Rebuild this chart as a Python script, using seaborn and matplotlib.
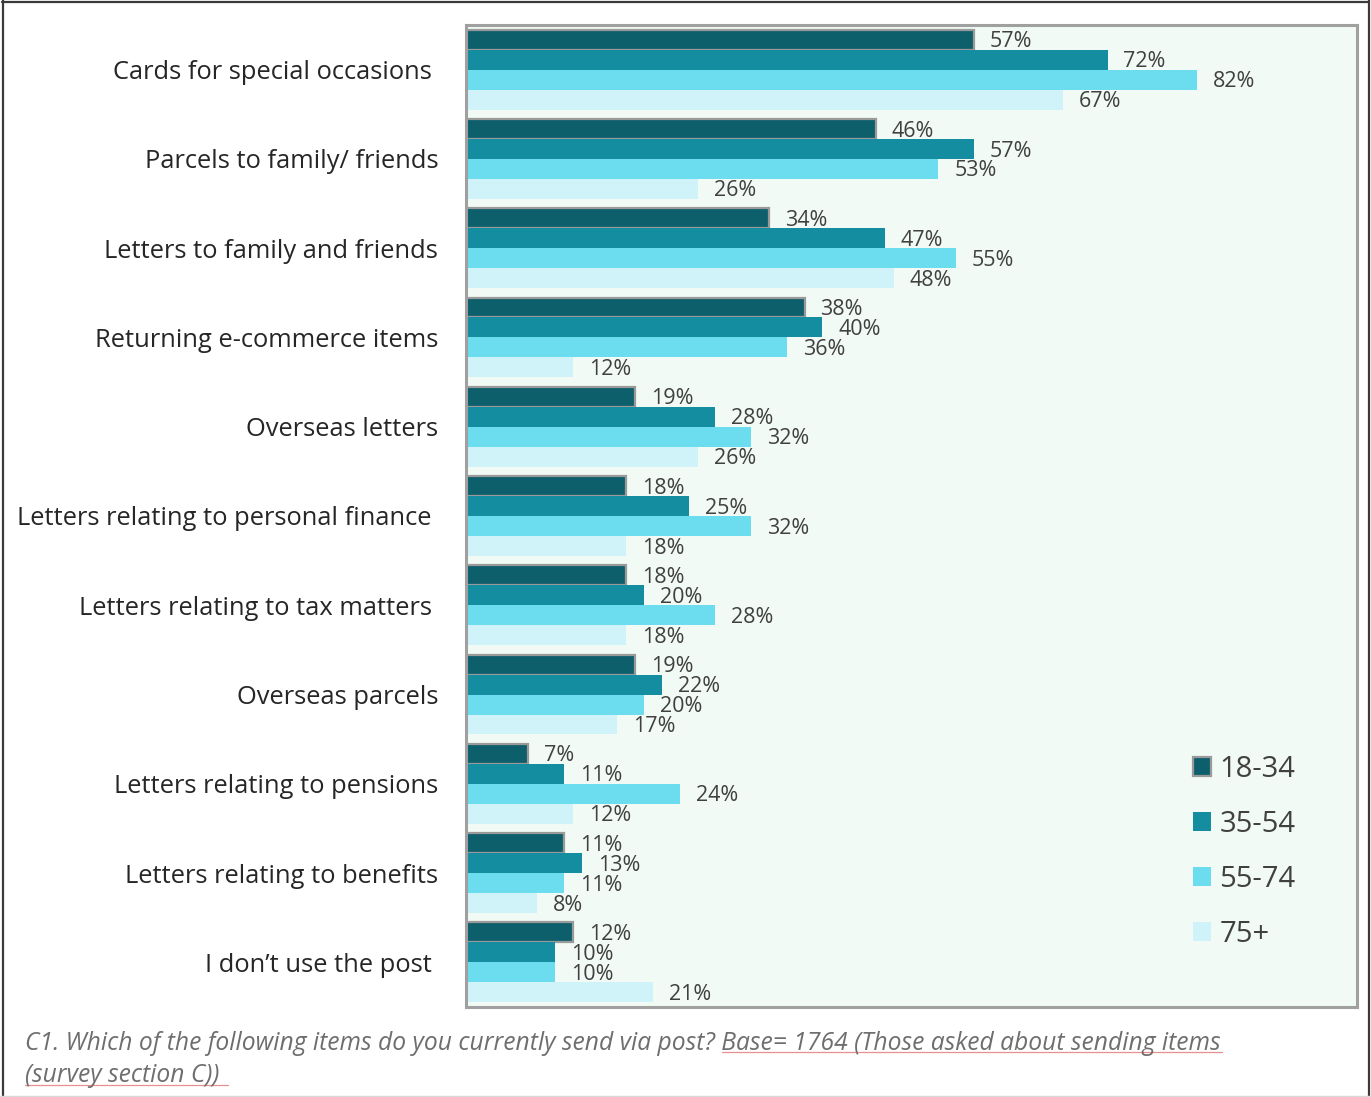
import matplotlib
matplotlib.use("Agg")
import matplotlib.pyplot as plt
from matplotlib.lines import Line2D
import seaborn as sns
import pandas as pd
import numpy as np

categories = [
    "Cards for special occasions ",
    "Parcels to family/ friends",
    "Letters to family and friends",
    "Returning e-commerce items",
    "Overseas letters",
    "Letters relating to personal finance ",
    "Letters relating to tax matters ",
    "Overseas parcels",
    "Letters relating to pensions",
    "Letters relating to benefits",
    "I don\u2019t use the post ",
]
age_groups = ["18-34", "35-54", "55-74", "75+"]
age_18_34 = [57, 46, 34, 38, 19, 18, 18, 19, 7, 11, 12]
age_35_54 = [72, 57, 47, 40, 28, 25, 20, 22, 11, 13, 10]
age_55_74 = [82, 53, 55, 36, 32, 32, 28, 20, 24, 11, 10]
age_75_plus = [67, 26, 48, 12, 26, 18, 18, 17, 12, 8, 21]

caption_line1 = ("C1. Which of the following items do you currently send via post? "
                 "Base= 1764 (Those asked about sending items")
caption_line2 = "(survey section C))"

palette = ["#0e5f6c", "#148da1", "#6cdcef", "#cff3f9"]

rows = []
for series, name in zip([age_18_34, age_35_54, age_55_74, age_75_plus], age_groups):
    for cat, v in zip(categories, series):
        rows.append({"item": cat, "age": name, "pct": v})
df = pd.DataFrame(rows)

sns.set_theme(style="white")
plt.rcParams["font.family"] = ["Open Sans", "DejaVu Sans"]

W, H = 1371, 1097
fig = plt.figure(figsize=(W / 100, H / 100), dpi=100)
ax = fig.add_axes([466 / W, 90 / H, (1357 - 466) / W, (1007 - 25) / H])
ax.set_facecolor("#f1faf5")

sns.barplot(data=df, y="item", x="pct", hue="age", order=categories,
            hue_order=age_groups, palette=palette, orient="h",
            width=0.895, saturation=1, linewidth=0, errorbar=None, ax=ax)

# grey outline on the youngest group
for bar in ax.containers[0]:
    bar.set_edgecolor("#9a9a9a")
    bar.set_linewidth(1.6)

for cont in ax.containers:
    texts = ax.bar_label(cont, labels=[f"{int(round(b.get_width()))}%" for b in cont],
                         padding=11.5, fontsize=15.5, color="#404040")
    for t in texts:
        t.xyann = (11.5, -1.5)

ax.set_xlim(0, 100)
ax.set_ylim(len(categories) - 0.5, -0.5)
ax.set_xlabel("")
ax.set_ylabel("")
ax.set_xticks([])

ax.tick_params(axis="y", which="major", length=0, pad=20, labelsize=18.4, labelcolor="#262626")
ax.set_yticks(np.arange(-0.5, len(categories) + 0.5, 1), minor=True)
ax.tick_params(axis="y", which="minor", length=6, width=2.2, color="#9f9f9f", direction="out")

for s in ax.spines.values():
    s.set_visible(True)
    s.set_color("#a0a0a0")
    s.set_linewidth(2.2)

handles, labels = ax.get_legend_handles_labels()
if ax.get_legend() is not None:
    ax.get_legend().remove()
handles[0].set_edgecolor("#9a9a9a")
handles[0].set_linewidth(1.6)
leg = fig.legend(handles, labels, loc="upper left",
                 bbox_to_anchor=(1193 / W, 1 - 755 / H), bbox_transform=fig.transFigure,
                 frameon=False, fontsize=21, handlelength=0.6, handleheight=0.6,
                 handletextpad=0.3, labelspacing=0.89, borderpad=0, borderaxespad=0)
for t in leg.get_texts():
    t.set_color("#404040")

# caption
fig.text(25 / W, 1 - 1043 / H, caption_line1, fontsize=17.7, style="italic",
         color="#6e6e6e", va="center", ha="left")
fig.text(25 / W, 1 - 1075 / H, caption_line2, fontsize=17.7, style="italic",
         color="#6e6e6e", va="center", ha="left")
fig.add_artist(Line2D([722 / W, 1222 / W], [1 - 1052 / H] * 2, color="#e88f8f", lw=0.9))
fig.add_artist(Line2D([25 / W, 228 / W], [1 - 1085 / H] * 2, color="#e88f8f", lw=0.9))

# outer frame
fig.add_artist(Line2D([2 / W, 1369 / W], [1 - 1.5 / H] * 2, color="#3a3a3a", lw=1.6))
fig.add_artist(Line2D([2.5 / W] * 2, [0, 1], color="#3a3a3a", lw=1.6))
fig.add_artist(Line2D([1368.5 / W] * 2, [0, 1], color="#3a3a3a", lw=1.6))
fig.add_artist(Line2D([0, 1], [1.5 / H] * 2, color="#d9d9d9", lw=1.0))

fig.savefig("out.png", dpi=100, facecolor="white")
